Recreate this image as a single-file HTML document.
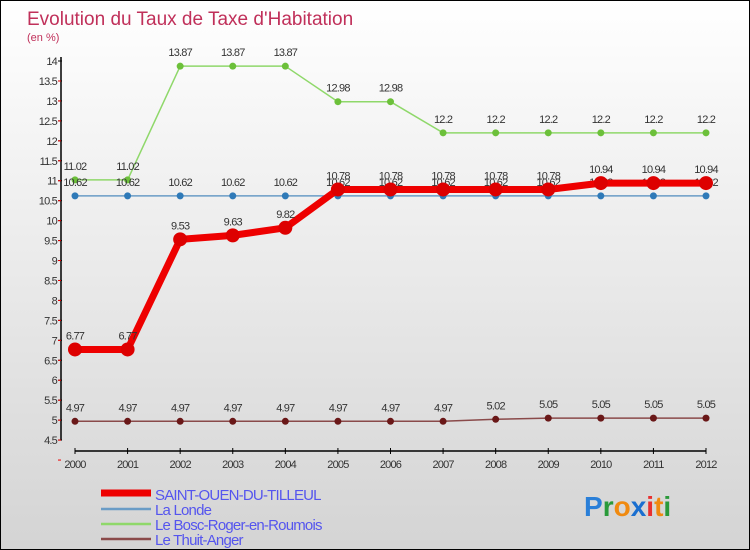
<!DOCTYPE html>
<html><head><meta charset="utf-8"><style>
html,body{margin:0;padding:0}
body{width:750px;height:550px;overflow:hidden;font-family:"Liberation Sans",sans-serif}
#wrap{position:relative;width:748px;height:548px;border:1px solid #000;background:linear-gradient(#ffffff,#d4d4d4)}
</style></head><body>
<div id="wrap">
<svg id="chart" width="748" height="548" style="position:absolute;left:0;top:0"></svg>
</div>
<script>
const years=["2000","2001","2002","2003","2004","2005","2006","2007","2008","2009","2010","2011","2012"];
const saintOuen=[6.77,6.77,9.53,9.63,9.82,10.78,10.78,10.78,10.78,10.78,10.94,10.94,10.94];
const laLonde=[10.62,10.62,10.62,10.62,10.62,10.62,10.62,10.62,10.62,10.62,10.62,10.62,10.62];
const boscRoger=[11.02,11.02,13.87,13.87,13.87,12.98,12.98,12.2,12.2,12.2,12.2,12.2,12.2];
const thuitAnger=[4.97,4.97,4.97,4.97,4.97,4.97,4.97,4.97,5.02,5.05,5.05,5.05,5.05];
const yTicks=[4.5,5,5.5,6,6.5,7,7.5,8,8.5,9,9.5,10,10.5,11,11.5,12,12.5,13,13.5,14];
const names=["SAINT-OUEN-DU-TILLEUL","La Londe","Le Bosc-Roger-en-Roumois","Le Thuit-Anger"];

const NS="http://www.w3.org/2000/svg";
const svg=document.getElementById('chart');
const X=i=>74+i*(631/12);
const Y=v=>60+(14-v)*39.9;
function el(t,a,p){const e=document.createElementNS(NS,t);for(const k in a)e.setAttribute(k,a[k]);(p||svg).appendChild(e);return e;}
function fmt(v){return String(Math.round(v*100)/100);}

const title=el('text',{x:26,y:24,'font-size':19,fill:'#c0305a'});title.textContent="Evolution du Taux de Taxe d'Habitation";


const sub=el('text',{x:26,y:40,'font-size':11,fill:'#c0305a'});sub.textContent="(en %)";



// axes
const ya=el('line',{x1:60,y1:Y(14)-4,x2:60,y2:Y(4.5),stroke:'#000','stroke-width':1.5});


yTicks.forEach(v=>{
 el('line',{x1:57,y1:Y(v),x2:61,y2:Y(v),stroke:'#000'});
 el('line',{x1:57,y1:Y(v)+20,x2:60,y2:Y(v)+20,stroke:'#e00'});
 const t=el('text',{x:56,y:Y(v)+4,'font-size':11,'text-anchor':'end',fill:'#333','letter-spacing':'-0.8'});t.textContent=String(v);
 
 
});
const xa=el('line',{x1:X(0),y1:450,x2:X(12),y2:450,stroke:'#000','stroke-width':1.5});


years.forEach((y,i)=>{
 el('line',{x1:X(i),y1:447,x2:X(i),y2:453,stroke:'#000'});
 const t=el('text',{x:X(i),y:467,'font-size':11,'text-anchor':'middle',fill:'#333','letter-spacing':'-0.8'});t.textContent=y;
 
 
});

function series(data,color,width,r,dot,key){
 const g=el('g',{});
 
 
 const p=el('polyline',{points:data.map((v,i)=>X(i)+','+Y(v)).join(' '),fill:'none',stroke:color,'stroke-width':width,'stroke-linejoin':'round'},g);
 
 
 data.forEach((v,i)=>{
  const c=el('circle',{cx:X(i),cy:Y(v),r:r,fill:dot},g);
  
  
  const t=el('text',{x:X(i),y:Y(v)-10,'font-size':11,'text-anchor':'middle',fill:'#333','letter-spacing':'-0.8'},g);t.textContent=fmt(v);
  
  
 });
}
series(boscRoger,'#8fd86a',1.5,3.5,'#6cc03a','bosc-roger');
series(laLonde,'#6a9cc6',1.5,3.5,'#2f7ab8','la-londe');
series(thuitAnger,'#8a4a4a',1.5,3.5,'#6a1818','thuit-anger');
series(saintOuen,'#ee0000',7,7,'#dd0000','saint-ouen');

// legend
const legColors=['#ee0000','#6a9cc6','#8fd86a','#8a4a4a'];
names.forEach((n,i)=>{
 const y=493+i*15;
 const g=el('g',{});
 
 
 el('line',{x1:100,y1:y+(i==0?-1:0),x2:150,y2:y+(i==0?-1:0),stroke:legColors[i],'stroke-width':i==0?7:2.5},g);
 const t=el('text',{x:154,y:y+6,'font-size':15,fill:'#5555ee','letter-spacing':'-0.8'},g);t.textContent=n;
});
const logo=el('text',{x:583,y:515,'font-size':28,'font-weight':'bold','font-family':'Liberation Sans,sans-serif'});


[['P','#2a7fd8'],['r','#2a9a3a'],['o','#f08a10'],['x','#1a6fd0'],['i','#e83030'],['t','#f08a10'],['i','#2a9a3a']].forEach(([c,f])=>{const s=el('tspan',{fill:f},logo);s.textContent=c;});
</script>
</body></html>
